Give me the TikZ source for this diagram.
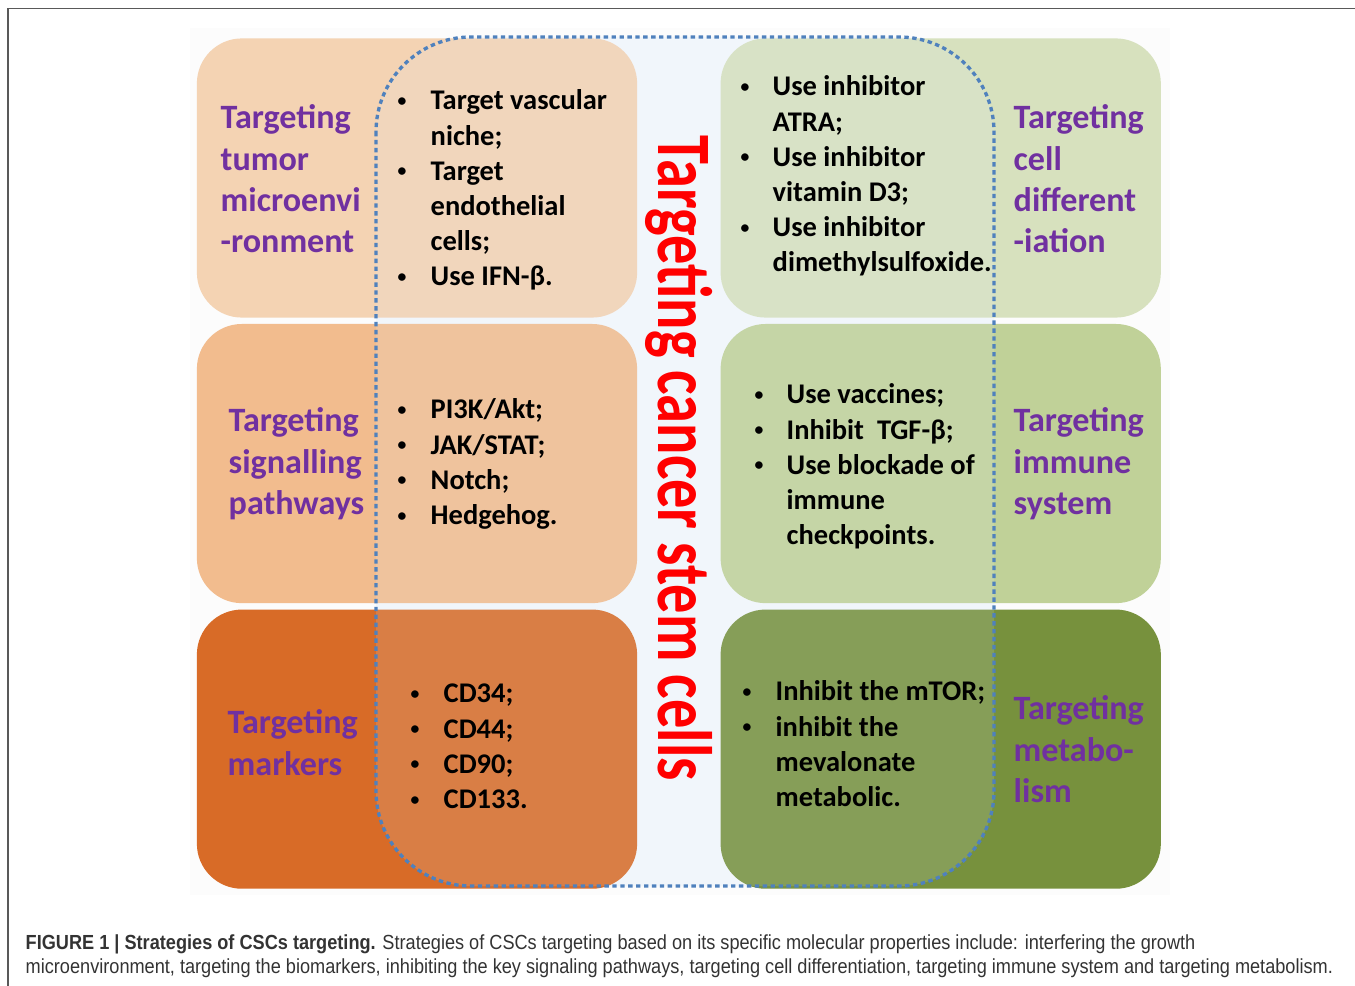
\documentclass[tikz,border=0pt]{standalone}
\usepackage{fontspec}
\setmainfont{Carlito}
\newfontfamily\capfont[FakeStretch=0.89]{Liberation Sans}
\usepackage{xcolor}
\usetikzlibrary{positioning}

\definecolor{tumorcol}{HTML}{F4D3B3}
\definecolor{signalcol}{HTML}{F2BC8E}
\definecolor{markercol}{HTML}{D86B27}
\definecolor{differcol}{HTML}{D7E1BE}
\definecolor{immunecol}{HTML}{C0D198}
\definecolor{metabcol}{HTML}{77913D}
\definecolor{hazecol}{HTML}{E2ECF6}
\definecolor{corecol}{HTML}{F4F8FC}
\definecolor{dotcol}{HTML}{4F81BD}
\definecolor{headcol}{HTML}{7030A0}
\definecolor{capcol}{HTML}{333333}

\tikzstyle{quadrant} = [rectangle, rounded corners=0.45cm, minimum width=4.4cm, minimum height=2.79cm, inner sep=0pt, draw=none]
\tikzstyle{heading} = [anchor=base west, inner sep=0pt, text=headcol, font=\fontsize{9.7}{11.7}\selectfont\bfseries]
\tikzstyle{points} = [anchor=base west, inner sep=0pt, font=\fontsize{8.1}{10}\selectfont\bfseries]

% small bullet in a fixed-width slot
\newcommand{\bul}{\raisebox{0.12em}{\scalebox{0.62}{\textbullet}}}

\begin{document}
\begin{tikzpicture}[x=0.01cm, y=-0.01cm, node distance=0.05cm and 0.82cm]
			
			\useasboundingbox (0,0) rectangle (1355,986);
			\fill[black!1] (190,28) rectangle (1170,895);
			\draw[gray!70!black, line width=0.45pt] (8,986) -- (8,8.5) -- (1355,8.5);
			
			% the common core behind the six boxes
			\fill[corecol, rounded corners=0.95cm] (376,37) rectangle (994,886);
			
			\node (tumor_box) [quadrant, fill=tumorcol] at (417,178) {};
			\node (signal_box) [quadrant, fill=signalcol, below=of tumor_box] {};
			\node (marker_box) [quadrant, fill=markercol, below=of signal_box] {};
			\node (differ_box) [quadrant, fill=differcol, right=of tumor_box] {};
			\node (immune_box) [quadrant, fill=immunecol, right=of signal_box] {};
			\node (metab_box) [quadrant, fill=metabcol, right=of marker_box] {};
			
			\fill[hazecol, fill opacity=0.15, rounded corners=0.95cm] (376,37) rectangle (994,886);
			\draw[dotcol, line width=0.95pt, dash pattern=on 1.25pt off 1pt, rounded corners=0.95cm] (376,37) rectangle (994,886);
			
			\node (core_label) [rotate=-90, inner sep=0pt, text=red, font=\fontsize{16.6}{18}\selectfont\bfseries] at (679,458) {\scalebox{1}[1.32]{Targeting cancer stem cells}};
			
			% left column
			\node (tumor_head) [heading] at (220,129) {\begin{tabular}[t]{@{}l@{}}Targeting\\ tumor\\ microenvi\\ -ronment\end{tabular}};
			\node (tumor_list) [points] at (397,110) {\begin{tabular}[t]{@{}p{0.33cm}@{}l@{}}\bul & Target vascular\\ & niche;\\ \bul & Target\\ & endothelial\\ & cells;\\ \bul & Use IFN-β.\end{tabular}};
			
			\node (signal_head) [heading] at (228,432) {\begin{tabular}[t]{@{}l@{}}Targeting\\ signalling\\ pathways\end{tabular}};
			\node (signal_list) [points] at (397,419) {\begin{tabular}[t]{@{}p{0.33cm}@{}l@{}}\bul & PI3K/Akt;\\ \bul & JAK/STAT;\\ \bul & Notch;\\ \bul & Hedgehog.\end{tabular}};
			
			\node (marker_head) [heading] at (227,734) {\begin{tabular}[t]{@{}l@{}}Targeting\\ markers\end{tabular}};
			\node (marker_list) [points] at (410,703) {\begin{tabular}[t]{@{}p{0.33cm}@{}l@{}}\bul & CD34;\\ \bul & CD44;\\ \bul & CD90;\\ \bul & CD133.\end{tabular}};
			
			% right column
			\node (differ_list) [points] at (740,96) {\begin{tabular}[t]{@{}p{0.32cm}@{}l@{}}\bul & Use inhibitor\\ & ATRA;\\ \bul & Use inhibitor\\ & vitamin D3;\\ \bul & Use inhibitor\\ & dimethylsulfoxide.\end{tabular}};
			\node (differ_head) [heading] at (1013,129) {\begin{tabular}[t]{@{}l@{}}Targeting\\ cell\\ different\\ -iation\end{tabular}};
			
			\node (immune_list) [points] at (754,404) {\begin{tabular}[t]{@{}p{0.32cm}@{}l@{}}\bul & Use vaccines;\\ \bul & Inhibit \ TGF-β;\\ \bul & Use blockade of\\ & immune\\ & checkpoints.\end{tabular}};
			\node (immune_head) [heading] at (1013,432) {\begin{tabular}[t]{@{}l@{}}Targeting\\ immune\\ system\end{tabular}};
			
			\node (metab_list) [points] at (742,701) {\begin{tabular}[t]{@{}p{0.33cm}@{}l@{}}\bul & Inhibit the mTOR;\\ \bul & inhibit the\\ & mevalonate\\ & metabolic.\end{tabular}};
			\node (metab_head) [heading] at (1013,720) {\begin{tabular}[t]{@{}l@{}}Targeting\\ metabo-\\ lism\end{tabular}};
			
			\node (caption) [anchor=base west, inner sep=0pt, text=capcol, font=\capfont\fontsize{5.8}{7.1}\selectfont] at (25,949) {\begin{tabular}[t]{@{}l@{}}\textbf{FIGURE 1 | Strategies of CSCs targeting.} Strategies of CSCs targeting based on its specific molecular properties include: interfering the growth\\ microenvironment, targeting the biomarkers, inhibiting the key signaling pathways, targeting cell differentiation, targeting immune system and targeting metabolism.\end{tabular}};
			
		\end{tikzpicture}
\end{document}
